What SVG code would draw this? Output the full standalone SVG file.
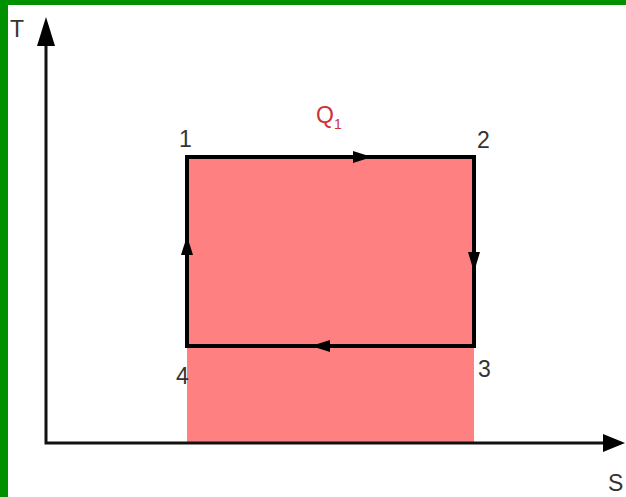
<svg xmlns="http://www.w3.org/2000/svg" width="626" height="497" viewBox="0 0 626 497">
<style>
.lbl{font-family:"Liberation Sans",Arial,sans-serif;font-size:23px;fill:#333}
.ax{stroke:#111;stroke-width:3;fill:none}
.cyc{stroke:#000;stroke-width:4;fill:none}
</style>
<rect x="0" y="0" width="626" height="497" fill="#fff"/>
<rect x="0" y="0" width="626" height="5" fill="#009000"/>
<rect x="0" y="0" width="8" height="497" fill="#009000"/>
<g id="area">
<rect x="187" y="157" width="287" height="286" fill="#ff8080"/>
</g>
<g id="axes">
<path class="ax" d="M46,45 L46,443 L605,443"/>
<path d="M46,17 L37,46 L55,46 z" fill="#000"/>
<path d="M625,443 L603,434 L603,452 z" fill="#000"/>
<text class="lbl" x="10" y="37">T</text>
<text class="lbl" x="608" y="491">S</text>
</g>
<g id="connectors">
<path class="cyc" d="M187,157 L474,157 L474,346 L187,346 Z"/>
<path d="M372,157 L353,151 L353,163 z" fill="#000"/>
<path d="M474,272 L468,252 L480,252 z" fill="#000"/>
<path d="M311,346 L330,340 L330,352 z" fill="#000"/>
<path d="M187,236 L181,255 L193,255 z" fill="#000"/>
</g>
<g id="n1"><text class="lbl" x="179" y="147">1</text></g>
<g id="n2"><text class="lbl" x="477" y="148">2</text></g>
<g id="n3"><text class="lbl" x="478" y="377">3</text></g>
<g id="n4"><text class="lbl" x="176" y="384">4</text></g>
<g id="q1"><text x="316" y="123" font-family="Liberation Sans,Arial,sans-serif" font-size="23" fill="#cc3333">Q<tspan font-size="14" dy="6">1</tspan></text></g>
</svg>
